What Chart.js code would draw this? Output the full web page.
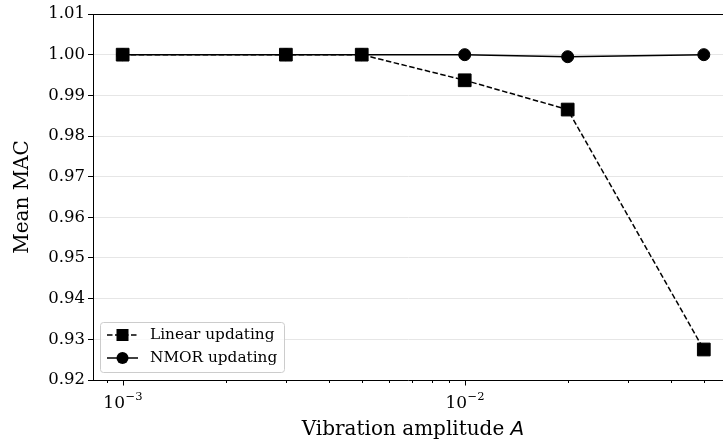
<!DOCTYPE html>
<html>
<head>
<meta charset="utf-8">
<script src="https://cdn.jsdelivr.net/npm/chart.js@4"></script>
<style>
  html, body { margin: 0; padding: 0; background: #fff; }
</style>
</head>
<body>
<canvas id="c" width="723" height="443"></canvas>
<script>
// --- data ---
const amplitudes   = [0.001, 0.003, 0.005, 0.01, 0.02, 0.05];
const linearMAC    = [1.0, 1.0, 1.0, 0.9937, 0.9865, 0.9275];
const nmorMAC      = [1.0, 1.0, 1.0, 1.0, 0.9995, 1.0];
const seriesNames  = ["Linear updating", "NMOR updating"];

const xMajorTicks  = [1e-3, 1e-2];
const xTickExps    = ["\u22123", "\u22122"];   // shown as 10^exp
const xMinorTicks  = [9e-4, 2e-3, 3e-3, 4e-3, 5e-3, 6e-3, 7e-3, 8e-3, 9e-3, 2e-2, 3e-2, 4e-2, 5e-2];
const yMin = 0.92, yMax = 1.01, yStep = 0.01;

const xTitle = "Vibration amplitude ";
const xTitleItalic = "A";
const yTitle = "Mean MAC";

const FONT = "'DejaVu Serif', serif";

// spines, ticks, axis titles and legend
const decor = {
  id: "decor",
  afterDraw(chart) {
    const { ctx, chartArea: a, scales: { x } } = chart;
    ctx.save();
    ctx.strokeStyle = "#000";
    ctx.lineWidth = 1;

    // top spine
    ctx.beginPath();
    ctx.moveTo(a.left, a.top + 0.5);
    ctx.lineTo(a.right, a.top + 0.5);
    ctx.stroke();

    // x tick marks (major longer than minor)
    x.ticks.forEach(t => {
      const px = Math.round(x.getPixelForValue(t.value)) + 0.5;
      const len = t.major ? 5.5 : 3;
      ctx.beginPath();
      ctx.moveTo(px, a.bottom);
      ctx.lineTo(px, a.bottom + len);
      ctx.stroke();
    });

    // x tick labels 10^n
    ctx.fillStyle = "#000";
    ctx.textAlign = "left";
    ctx.textBaseline = "alphabetic";
    xMajorTicks.forEach((v, i) => {
      const px = x.getPixelForValue(v);
      ctx.font = "17px " + FONT;
      const wb = ctx.measureText("10").width;
      ctx.font = "11.5px " + FONT;
      const we = ctx.measureText(xTickExps[i]).width;
      const sx = px - (wb + we) / 2;
      ctx.font = "17px " + FONT;
      ctx.fillText("10", sx, 408);
      ctx.font = "11.5px " + FONT;
      ctx.fillText(xTickExps[i], sx + wb + 0.5, 400);
    });

    // x title with italic A
    ctx.font = "20px " + FONT;
    const w1 = ctx.measureText(xTitle).width;
    ctx.font = "oblique 20px 'DejaVu Sans', sans-serif";
    const w2 = ctx.measureText(xTitleItalic).width;
    const startX = 413 - (w1 + w2) / 2;
    ctx.font = "20px " + FONT;
    ctx.fillText(xTitle, startX, 435);
    ctx.font = "oblique 20px 'DejaVu Sans', sans-serif";
    ctx.fillText(xTitleItalic, startX + w1, 435);

    // y title
    ctx.save();
    ctx.translate(23, 197);
    ctx.rotate(-Math.PI / 2);
    ctx.font = "20px " + FONT;
    ctx.textAlign = "center";
    ctx.textBaseline = "middle";
    ctx.fillText(yTitle, 0, 0);
    ctx.restore();

    // legend
    const lx = 100.5, ly = 322.5, lw = 184, lh = 50;
    ctx.beginPath();
    ctx.roundRect(lx, ly, lw, lh, 3);
    ctx.fillStyle = "rgba(255,255,255,0.8)";
    ctx.fill();
    ctx.strokeStyle = "#cccccc";
    ctx.lineWidth = 1;
    ctx.stroke();

    chart.data.datasets.forEach((ds, i) => {
      const ry = 335 + i * 23;
      ctx.strokeStyle = "#000";
      ctx.lineWidth = 1.5;
      ctx.setLineDash(ds.borderDash || []);
      ctx.beginPath();
      ctx.moveTo(107, ry);
      ctx.lineTo(138, ry);
      ctx.stroke();
      ctx.setLineDash([]);
      ctx.fillStyle = "#000";
      if (ds.pointStyle === "rect") {
        ctx.fillRect(116.5, ry - 6, 12, 12);
      } else {
        ctx.beginPath();
        ctx.arc(122.5, ry, 6, 0, Math.PI * 2);
        ctx.fill();
      }
      ctx.font = "15.3px " + FONT;
      ctx.textAlign = "left";
      ctx.textBaseline = "middle";
      ctx.fillText(ds.label, 150, ry);
    });

    ctx.restore();
  }
};

new Chart(document.getElementById("c"), {
  type: "line",
  data: {
    datasets: [
      {
        label: seriesNames[0],
        data: amplitudes.map((a, i) => ({ x: a, y: linearMAC[i] })),
        borderColor: "#000",
        backgroundColor: "#000",
        borderWidth: 1.5,
        borderDash: [5.5, 2.5],
        pointStyle: "rect",
        pointRadius: 9,
        pointBorderWidth: 1,
        pointBorderColor: "#000",
        pointBackgroundColor: "#000",
        tension: 0
      },
      {
        label: seriesNames[1],
        data: amplitudes.map((a, i) => ({ x: a, y: nmorMAC[i] })),
        borderColor: "#000",
        backgroundColor: "#000",
        borderWidth: 1.5,
        pointStyle: "circle",
        pointRadius: 6,
        pointBorderWidth: 1,
        pointBorderColor: "#000",
        pointBackgroundColor: "#000",
        tension: 0
      }
    ]
  },
  options: {
    responsive: false,
    animation: false,
    clip: false,
    layout: { autoPadding: false, padding: { left: 0, top: 14, right: 0, bottom: 0 } },
    plugins: {
      legend: { display: false },
      tooltip: { enabled: false }
    },
    scales: {
      x: {
        type: "logarithmic",
        min: 8.19e-4,
        max: 0.0569,
        afterFit: s => { s.height = 63; s.paddingLeft = 0; s.paddingRight = 0; },
        afterBuildTicks: s => {
          s.ticks = xMajorTicks.map(v => ({ value: v, major: true }))
            .concat(xMinorTicks.map(v => ({ value: v, major: false })))
            .sort((p, q) => p.value - q.value);
        },
        border: { display: true, color: "#000", width: 1 },
        grid: { display: true, drawOnChartArea: false, drawTicks: false },
        ticks: {
          autoSkip: false,
          maxRotation: 0,
          callback: () => ""
        }
      },
      y: {
        min: yMin,
        max: yMax,
        afterFit: s => { s.width = 93; s.paddingTop = 0; s.paddingBottom = 0; },
        border: { display: true, color: "#000", width: 1 },
        grid: { color: "#e6e6e6", lineWidth: 1, tickLength: 5, tickColor: "#000" },
        ticks: {
          stepSize: yStep,
          padding: 3,
          color: "#000",
          font: { family: FONT, size: 16.5 },
          callback: v => v.toFixed(2)
        }
      }
    }
  },
  plugins: [decor]
});
</script>
</body>
</html>
